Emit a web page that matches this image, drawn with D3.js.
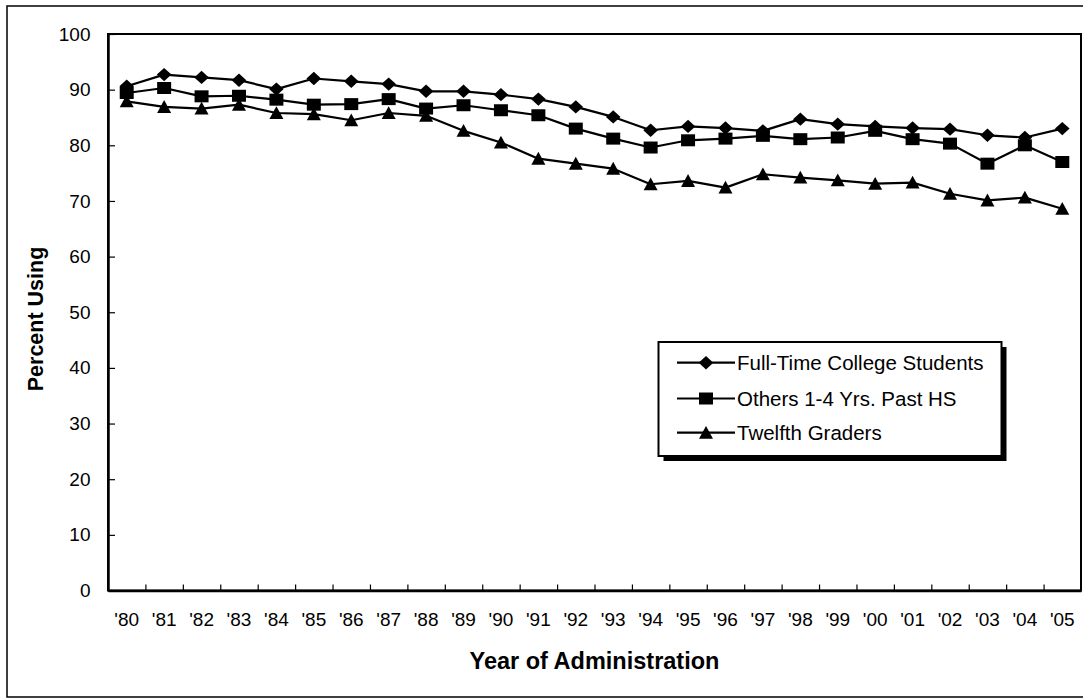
<!DOCTYPE html>
<html>
<head>
<meta charset="utf-8">
<script src="https://cdn.jsdelivr.net/npm/d3@7"></script>
<style>
  html, body { margin: 0; padding: 0; background: #fff; }
  svg { display: block; font-family: "Liberation Sans", Arial, sans-serif; }
</style>
</head>
<body>
<svg id="chart" width="1083" height="698"></svg>
<script>
const years = ["'80","'81","'82","'83","'84","'85","'86","'87","'88","'89","'90","'91","'92","'93","'94","'95","'96","'97","'98","'99","'00","'01","'02","'03","'04","'05"];
const fullTime = [90.6, 92.7, 92.2, 91.7, 90.1, 92.0, 91.5, 91.0, 89.7, 89.7, 89.1, 88.3, 86.9, 85.1, 82.7, 83.4, 83.1, 82.6, 84.7, 83.8, 83.4, 83.1, 82.9, 81.8, 81.4, 83.0];
const others = [89.4, 90.3, 88.8, 88.9, 88.2, 87.3, 87.4, 88.3, 86.6, 87.2, 86.3, 85.4, 83.0, 81.2, 79.6, 80.9, 81.2, 81.7, 81.1, 81.4, 82.6, 81.1, 80.3, 76.7, 80.0, 77.0];
const twelfth = [87.9, 86.9, 86.6, 87.3, 85.8, 85.6, 84.5, 85.8, 85.3, 82.6, 80.5, 77.6, 76.7, 75.8, 73.0, 73.6, 72.4, 74.8, 74.2, 73.7, 73.1, 73.3, 71.3, 70.1, 70.6, 68.6];
const seriesNames = ["Full-Time College Students", "Others 1-4 Yrs. Past HS", "Twelfth Graders"];
const yTicks = [0, 10, 20, 30, 40, 50, 60, 70, 80, 90, 100];

const svg = d3.select("#chart");
const L = 108, R = 1081, T = 34, B = 590.5;

// outer frame
svg.append("rect").attr("x", 7).attr("y", 6).attr("width", 1090).attr("height", 691)
  .attr("fill", "none").attr("stroke", "#000").attr("stroke-width", 1.5);

const x = d3.scaleBand().domain(years).range([L, R]).padding(0);
const xb = d3.scaleLinear().domain([0, years.length]).range([L, R]);
const y = d3.scaleLinear().domain([0, 100]).range([B, T]);

// plot frame (top/right)
svg.append("rect").attr("x", L).attr("y", T).attr("width", R - L).attr("height", B - T)
  .attr("fill", "#fff").attr("stroke", "#000").attr("stroke-width", 2);

// y axis
const yAxis = svg.append("g").attr("transform", `translate(${L},0)`)
  .call(d3.axisLeft(y).tickValues(yTicks).tickSizeInner(-7).tickSizeOuter(0).tickPadding(24));
yAxis.select(".domain").attr("stroke-width", 2.5);
yAxis.selectAll(".tick line").attr("stroke-width", 1.2);
yAxis.selectAll(".tick text").attr("font-size", 19).attr("fill", "#000")
  .attr("font-family", "Liberation Sans, Arial, sans-serif").attr("x", -17.5);

// x axis: boundary ticks
const xTickAxis = svg.append("g").attr("transform", `translate(0,${B})`)
  .call(d3.axisBottom(xb).tickValues(d3.range(1, years.length)).tickSizeInner(-6).tickSizeOuter(0).tickFormat(""));
xTickAxis.select(".domain").attr("stroke-width", 2.5);
xTickAxis.selectAll(".tick line").attr("stroke-width", 1.2);

// x axis labels
const xLab = svg.append("g").attr("transform", `translate(0,${B})`)
  .call(d3.axisBottom(x).tickSize(0).tickPadding(22));
xLab.select(".domain").remove();
xLab.selectAll(".tick text").attr("font-size", 19).attr("fill", "#000")
  .attr("font-family", "Liberation Sans, Arial, sans-serif");

// axis titles
svg.append("text").attr("x", 594.5).attr("y", 669).attr("text-anchor", "middle")
  .attr("font-size", 23.5).attr("font-weight", "bold").text("Year of Administration");
svg.append("text").attr("transform", "translate(43,319) rotate(-90)").attr("text-anchor", "middle")
  .attr("font-size", 21.5).attr("font-weight", "bold").text("Percent Using");

// markers
const shapes = [
  "M0,-6.7L7.3,0L0,6.7L-7.3,0Z",
  "M-7,-6H7V6H-7Z",
  "M0,-6.8L7,6L-7,6Z"
];
const allSeries = [fullTime, others, twelfth];
const line = d3.line().x((d, i) => x(years[i]) + x.bandwidth() / 2).y(d => y(d));

allSeries.forEach((data, si) => {
  svg.append("path").datum(data).attr("d", line).attr("fill", "none")
    .attr("stroke", "#000").attr("stroke-width", 2.2).attr("stroke-linejoin", "round");
});
allSeries.forEach((data, si) => {
  svg.append("g").selectAll("path").data(data).join("path")
    .attr("d", shapes[si])
    .attr("transform", (d, i) => `translate(${x(years[i]) + x.bandwidth() / 2},${y(d)})`)
    .attr("fill", "#000");
});

// legend
const lg = svg.append("g");
const lgX = 658.5, lgY = 342, lgW = 343, lgH = 114;
lg.append("rect").attr("x", lgX + 5).attr("y", lgY + 5).attr("width", lgW).attr("height", lgH).attr("fill", "#000");
lg.append("rect").attr("x", lgX).attr("y", lgY).attr("width", lgW).attr("height", lgH)
  .attr("fill", "#fff").attr("stroke", "#000").attr("stroke-width", 2);
const rowY = [362.7, 398.5, 432.7];
seriesNames.forEach((name, i) => {
  lg.append("line").attr("x1", 677).attr("x2", 735).attr("y1", rowY[i]).attr("y2", rowY[i])
    .attr("stroke", "#000").attr("stroke-width", 2.2);
  lg.append("path").attr("d", shapes[i]).attr("transform", `translate(706,${rowY[i]})`).attr("fill", "#000");
  lg.append("text").attr("x", 737).attr("y", rowY[i]).attr("dy", "0.36em")
    .attr("font-size", 20.5).attr("fill", "#000").text(name);
});
</script>
</body>
</html>
